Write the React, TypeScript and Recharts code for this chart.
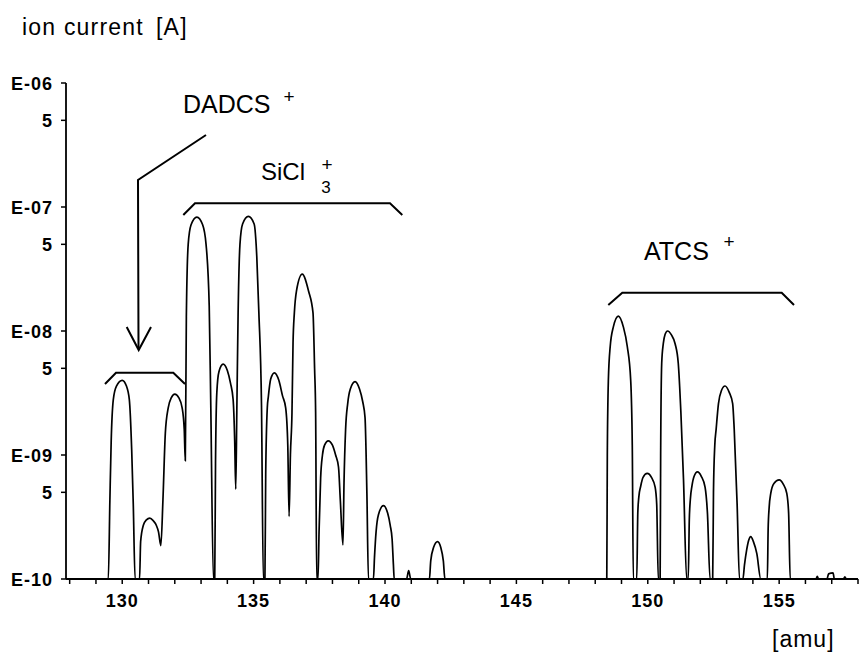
import React from "react";
import { LineChart, Line, XAxis, YAxis } from "recharts";

const B = 1e-10;

// trace: [amu, ion current in A]
const leadIn: [number, number][] = [
  [127.86, B], [129.0, B],
];

const dadcsTrace: [number, number][] = [
  // 130
  [129.47, B], [129.53, 4.3e-10], [129.58, 1.3e-9], [129.66, 2.8e-9], [129.78, 3.6e-9],
  [130.0, 4.0e-9], [130.16, 3.6e-9], [130.27, 2.8e-9], [130.36, 1.1e-9], [130.42, 4.0e-10], [130.49, B],
  // 131
  [130.66, B], [130.7, 2.0e-10], [130.8, 2.7e-10], [130.92, 3.0e-10], [131.05, 3.1e-10],
  [131.18, 2.95e-10], [131.3, 2.7e-10], [131.38, 2.4e-10], [131.47, 1.86e-10],
  // 132
  [131.55, 4.4e-10], [131.64, 1.5e-9], [131.75, 2.4e-9], [131.87, 2.9e-9], [132.0, 3.1e-9],
  [132.15, 2.9e-9], [132.28, 2.4e-9], [132.36, 1.6e-9], [132.4, 9.0e-10],
];

const siclTrace: [number, number][] = [
  // 133
  [132.44, 1.3e-8], [132.51, 5.0e-8], [132.62, 7.2e-8], [132.84, 8.3e-8], [133.06, 7.2e-8],
  [133.19, 5.0e-8], [133.31, 1.6e-8], [133.37, 2.5e-9], [133.47, B],
  // 134
  [133.52, B], [133.55, 8.6e-10], [133.6, 3.2e-9], [133.68, 4.7e-9], [133.84, 5.4e-9],
  [134.0, 4.8e-9], [134.12, 3.8e-9], [134.22, 2.8e-9], [134.28, 1.3e-9], [134.32, 5.3e-10],
  // 135
  [134.36, 2.2e-9], [134.41, 1.4e-8], [134.48, 5.0e-8], [134.58, 7.3e-8], [134.8, 8.4e-8],
  [135.02, 7.3e-8], [135.12, 4.0e-8], [135.2, 1.4e-8], [135.3, 2.5e-9], [135.37, B],
  // 136
  [135.43, B], [135.46, 7.0e-10], [135.52, 2.4e-9], [135.56, 2.95e-9], [135.65, 4.1e-9],
  [135.79, 4.6e-9], [135.96, 4.0e-9], [136.1, 3.0e-9], [136.22, 2.4e-9], [136.3, 1.2e-9], [136.35, 3.2e-10],
  // 137
  [136.4, 1.0e-9], [136.46, 2.2e-9], [136.5, 8.0e-9], [136.55, 1.4e-8], [136.63, 2.1e-8],
  [136.85, 2.87e-8], [137.09, 2.1e-8], [137.26, 1.4e-8], [137.32, 5.0e-9], [137.36, 2.2e-9], [137.4, B],
  // 138
  [137.45, B], [137.49, 2.4e-10], [137.55, 6.5e-10], [137.62, 1.0e-9], [137.7, 1.2e-9],
  [137.84, 1.3e-9], [138.0, 1.2e-9], [138.12, 1.0e-9], [138.23, 8.0e-10], [138.3, 4.3e-10], [138.4, 1.88e-10],
  // 139
  [138.44, 6.0e-10], [138.5, 1.6e-9], [138.58, 2.6e-9], [138.68, 3.4e-9], [138.86, 3.9e-9],
  [139.03, 3.4e-9], [139.15, 2.7e-9], [139.24, 2.0e-9], [139.31, 5.0e-10], [139.37, B],
  // 140
  [139.56, B], [139.6, 1.5e-10], [139.66, 2.4e-10], [139.75, 3.3e-10], [139.94, 3.9e-10],
  [140.1, 3.4e-10], [140.2, 2.7e-10], [140.27, 2.1e-10], [140.32, 1.3e-10], [140.35, B],
  // 141
  [140.82, B], [140.9, 1.17e-10], [140.98, B],
  // 142
  [141.69, B], [141.74, 1.4e-10], [141.85, 1.8e-10], [142.0, 2.0e-10], [142.12, 1.8e-10],
  [142.22, 1.4e-10], [142.28, B],
];

const gapTrace: [number, number][] = [
  [143.0, B], [145.0, B], [147.0, B],
];

const atcsTrace: [number, number][] = [
  // 149
  [148.44, B], [148.46, 1.0e-9], [148.5, 4.0e-9], [148.57, 7.5e-9], [148.69, 1.08e-8],
  [148.88, 1.32e-8], [149.07, 1.08e-8], [149.22, 7.5e-9], [149.35, 4.0e-9], [149.41, 1.2e-9], [149.45, B],
  // 150
  [149.58, B], [149.62, 3.4e-10], [149.66, 4.6e-10], [149.73, 5.6e-10], [149.82, 6.6e-10],
  [149.98, 7.1e-10], [150.14, 6.6e-10], [150.28, 5.5e-10], [150.34, 4.0e-10], [150.4, B],
  // 151
  [150.47, B], [150.49, 1.0e-9], [150.53, 5.5e-9], [150.59, 7.9e-9], [150.66, 9.4e-9],
  [150.75, 1.0e-8], [150.9, 9.3e-9], [151.04, 7.9e-9], [151.16, 5.5e-9], [151.26, 2.2e-9],
  [151.36, 6.3e-10], [151.48, B],
  // 152
  [151.54, B], [151.58, 3.0e-10], [151.62, 4.4e-10], [151.68, 5.6e-10], [151.76, 6.7e-10],
  [151.89, 7.3e-10], [152.04, 6.7e-10], [152.18, 5.5e-10], [152.27, 3.4e-10], [152.37, B],
  // 153
  [152.47, B], [152.5, 5.0e-10], [152.55, 1.2e-9], [152.6, 1.6e-9], [152.69, 2.6e-9],
  [152.8, 3.3e-9], [152.94, 3.6e-9], [153.1, 3.2e-9], [153.23, 2.6e-9], [153.29, 1.6e-9],
  [153.4, 4.0e-10], [153.49, B],
  // 154
  [153.62, B], [153.68, 1.3e-10], [153.76, 1.7e-10], [153.84, 2.05e-10], [153.92, 2.2e-10],
  [154.02, 2.0e-10], [154.15, 1.6e-10], [154.3, B],
  // 155
  [154.55, B], [154.58, 2.5e-10], [154.62, 3.8e-10], [154.68, 4.9e-10], [154.8, 5.9e-10],
  [155.0, 6.3e-10], [155.16, 5.8e-10], [155.29, 4.9e-10], [155.36, 3.4e-10], [155.42, B],
];

const tailTrace: [number, number][] = [
  [156.4, B], [156.45, 1.05e-10], [156.5, B], [156.82, B], [156.88, 1.1e-10],
  [157.05, 1.12e-10], [157.1, B], [157.45, B], [157.5, 1.04e-10], [157.55, B], [158.0, B],
];

const yTicks = [1e-10, 5e-10, 1e-9, 5e-9, 1e-8, 5e-8, 1e-7, 5e-7, 1e-6];
const xTicks = [128, 129, 130, 131, 132, 133, 134, 135, 136, 137, 138, 139, 140, 141, 142, 143,
  144, 145, 146, 147, 148, 149, 150, 151, 152, 153, 154, 155, 156, 157, 158];
const xLabelStep = 5;

const data = [...leadIn, ...dadcsTrace, ...siclTrace, ...gapTrace, ...atcsTrace, ...tailTrace].map(
  ([amu, current]) => ({ amu, current })
);

const TICK_FONT = "'Liberation Sans', Arial, Helvetica, sans-serif";

function fmtY(v: number): string {
  const e = Math.floor(Math.log10(v) + 1e-9);
  const m = v / Math.pow(10, e);
  if (Math.abs(m - 1) < 0.01) return "E-" + String(-e).padStart(2, "0");
  return String(Math.round(m));
}

const YTick = (props: any) => {
  const { x, y, payload } = props;
  return (
    <text
      x={x}
      y={y + 6.5}
      textAnchor="end"
      fill="#000"
      style={{ fontFamily: TICK_FONT, fontSize: 18, fontWeight: 700, letterSpacing: 1 }}
    >
      {fmtY(payload.value)}
    </text>
  );
};

const XTick = (props: any) => {
  const { x, y, payload } = props;
  const v = Math.round(payload.value);
  if (v % xLabelStep !== 0) return <g />;
  return (
    <text
      x={x}
      y={y + 12.5}
      textAnchor="middle"
      fill="#000"
      style={{ fontFamily: TICK_FONT, fontSize: 18, fontWeight: 700, letterSpacing: 1 }}
    >
      {v}
    </text>
  );
};

const LBL = "'Liberation Sans', Arial, Helvetica, sans-serif";

export default function App() {
  return (
    <div style={{ position: "absolute", left: 0, top: 0, width: 859, height: 662, background: "#fff" }}>
      <LineChart
        width={859}
        height={662}
        data={data}
        margin={{ top: 83, right: 1, bottom: 43, left: 0 }}
      >
        <XAxis
          type="number"
          dataKey="amu"
          domain={[127.86, 158]}
          allowDataOverflow
          ticks={xTicks}
          interval={0}
          height={40}
          tickSize={5}
          tickMargin={10}
          stroke="#000"
          axisLine={{ stroke: "#000", strokeWidth: 1.8 }}
          tickLine={{ stroke: "#000", strokeWidth: 1.5 }}
          tick={<XTick />}
        />
        <YAxis
          type="number"
          scale="log"
          domain={[1e-10, 1e-6]}
          allowDataOverflow
          ticks={yTicks}
          interval={0}
          width={66}
          tickSize={5}
          tickMargin={8}
          stroke="#000"
          axisLine={{ stroke: "#000", strokeWidth: 1.8 }}
          tickLine={{ stroke: "#000", strokeWidth: 1.5 }}
          tick={<YTick />}
        />
        <Line
          type="monotone"
          dataKey="current"
          stroke="#000"
          strokeWidth={1.7}
          dot={false}
          isAnimationActive={false}
        />
      </LineChart>
      <svg
        width={859}
        height={662}
        style={{ position: "absolute", left: 0, top: 0, pointerEvents: "none" }}
      >
        <g style={{ fontFamily: LBL }} fill="#000">
          <text x={22} y={35} style={{ fontSize: 23, letterSpacing: 1.2 }}>ion current</text>
          <text x={156} y={35} style={{ fontSize: 23, letterSpacing: 1.2 }}>[A]</text>
          <text x={772} y={647} style={{ fontSize: 23, letterSpacing: 1 }}>[amu]</text>

          <text x={183} y={113} style={{ fontSize: 25 }}>DADCS</text>
          <text x={289} y={103} textAnchor="middle" style={{ fontSize: 19 }}>+</text>

          <text x={261} y={180} style={{ fontSize: 24 }}>SiCl</text>
          <text x={327} y={171} textAnchor="middle" style={{ fontSize: 19 }}>+</text>
          <text x={326} y={193} textAnchor="middle" style={{ fontSize: 17 }}>3</text>

          <text x={644} y={260} style={{ fontSize: 25 }}>ATCS</text>
          <text x={729} y={248} textAnchor="middle" style={{ fontSize: 19 }}>+</text>
        </g>
        <g fill="none" stroke="#000" strokeWidth={2}>
          <polyline points="206,135 138,180 138.5,349" />
          <polyline points="126.7,327 138.7,350 151,327" />
          <polyline points="105,384 116,372.7 173.3,372.7 185,384" />
          <polyline points="183.3,215 195,203.3 390,203.3 402.3,215" />
          <polyline points="608.3,305 622.3,292.7 781.7,292.7 794,305" />
        </g>
      </svg>
    </div>
  );
}
